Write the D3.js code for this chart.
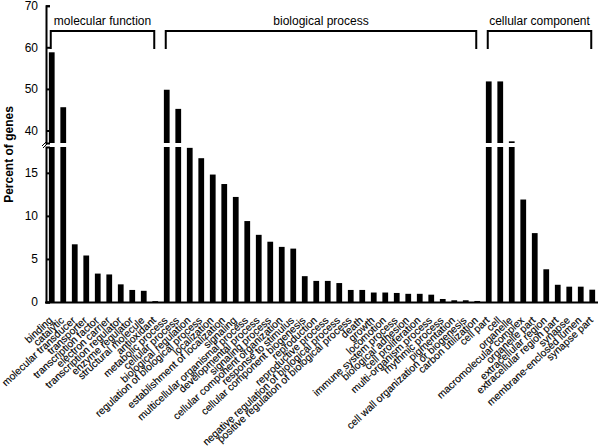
<!DOCTYPE html>
<html><head><meta charset="utf-8">
<script src="https://cdn.jsdelivr.net/npm/d3@7"></script>
<style>body{margin:0;background:#fff}svg{display:block;font-family:"Liberation Sans",Arial,sans-serif}</style>
</head><body>
<svg id="c" width="600" height="447"></svg>
<script>
const groups = ["molecular function","biological process","cellular component"];
const mfCategories = ["binding","catalytic","molecular transducer","transporter","transcription factor","electron carrier","transcription regulator","enzyme regulator","structural molecule","antioxidant"];
const mfValues = [58.8,45.6,6.7,5.4,3.3,3.2,2.05,1.4,1.3,0.1];
const bpCategories = ["metabolic process","cellular process","biological regulation","regulation of biological process","localization","establishment of localization","signaling","multicellular organismal process","developmental process","signaling process","cellular component organization","response to stimulus","cellular component biogenesis","reproduction","reproductive process","negative regulation of biological process","positive regulation of biological process","death","growth","locomotion","immune system process","biological adhesion","cell proliferation","multi-organism process","rhythmic process","pigmentation","cell wall organization or biogenesis","carbon utilization"];
const bpValues = [49.8,45.2,17.9,16.7,14.8,13.7,12.2,9.4,7.8,7.0,6.4,6.2,3.0,2.45,2.45,2.2,1.4,1.4,1.1,1.1,1.05,0.95,0.95,0.85,0.35,0.2,0.2,0.12];
const ccCategories = ["cell part","cell","organelle","macromolecular complex","organelle part","extracellular region","extracellular region part","synapse","membrane-enclosed lumen","synapse part"];
const ccValues = [51.8,51.8,37.4,11.9,8.0,3.8,2.0,1.78,1.78,1.43];
const lowTicks = [0,5,10,15];
const highTicks = [40,50,60,70];

const cats = [...mfCategories, ...bpCategories, ...ccCategories];
const vals = [...mfValues, ...bpValues, ...ccValues];
const groupCats = [mfCategories, bpCategories, ccCategories];

const svg = d3.select("#c");
const x = d3.scaleBand().domain(cats.map((c,i)=>i)).range([46, 598]).paddingInner(0.5).paddingOuter(0.25);
const yLow = d3.scaleLinear().domain([0,18]).range([302,147]);
const yHigh = d3.scaleLinear().domain([37,70]).range([143,5.7]);
const BREAK = 18;
const bw = x.bandwidth();

// bars
const g = svg.append("g");
vals.forEach((v,i)=>{
  const x0 = x(i);
  if (v <= BREAK) {
    g.append("rect").attr("x",x0).attr("width",bw).attr("y",yLow(v)).attr("height",yLow(0)-yLow(v)).attr("fill","#000");
  } else {
    g.append("rect").attr("x",x0).attr("width",bw).attr("y",yLow(BREAK)).attr("height",yLow(0)-yLow(BREAK)).attr("fill","#000");
    g.append("rect").attr("x",x0).attr("width",bw).attr("y",yHigh(v)).attr("height",yHigh(37)-yHigh(v)).attr("fill","#000");
  }
});

// y axes
const axL = svg.append("g").attr("transform","translate(46,0)")
  .call(d3.axisLeft(yLow).tickValues(lowTicks).tickSize(-4).tickPadding(8));
const axH = svg.append("g").attr("transform","translate(46,0)")
  .call(d3.axisLeft(yHigh).tickValues(highTicks).tickSize(-4).tickPadding(8));
[axL,axH].forEach(a=>{
  a.select(".domain").attr("stroke","#000").attr("stroke-width",2);
  a.selectAll(".tick line").attr("stroke","#000").attr("stroke-width",2);
  a.selectAll(".tick text").attr("font-size",12).attr("fill","#000").attr("font-family","Liberation Sans, Arial, sans-serif");
});
// break marks
svg.append("path").attr("d","M42,146 L47,141 M43,148 L48,143").attr("stroke","#000").attr("stroke-width",1);

// x axis
svg.append("line").attr("x1",45).attr("x2",598).attr("y1",302.5).attr("y2",302.5).attr("stroke","#000").attr("stroke-width",2);

// x labels
svg.append("g").selectAll("text").data(cats).join("text")
  .attr("transform",(d,i)=>`translate(${x(i)+bw/2-1},318.5) rotate(-43)`)
  .attr("text-anchor","end").attr("dy","0.35em").attr("font-size",10.3).attr("fill","#000")
  .attr("stroke","#000").attr("stroke-width",0.15)
  .text(d=>d);

// group brackets
let start = 0;
groupCats.forEach((gc,k)=>{
  const i0 = start, i1 = start + gc.length - 1;
  start += gc.length;
  const xa = x(i0)+bw/2-1, xb = x(i1)+bw/2-1;
  svg.append("path").attr("d",`M${xa},49 L${xa},31 L${xb},31 L${xb},49`).attr("fill","none").attr("stroke","#000").attr("stroke-width",2);
  svg.append("text").attr("x",(xa+xb)/2).attr("y",25).attr("text-anchor","middle").attr("font-size",12).attr("fill","#000").text(groups[k]);
});

// y label
svg.append("text").attr("transform","translate(13,154.5) rotate(-90)").attr("text-anchor","middle")
  .attr("font-size",12).attr("font-weight","bold").attr("fill","#000").text("Percent of genes");
</script>
</body></html>
